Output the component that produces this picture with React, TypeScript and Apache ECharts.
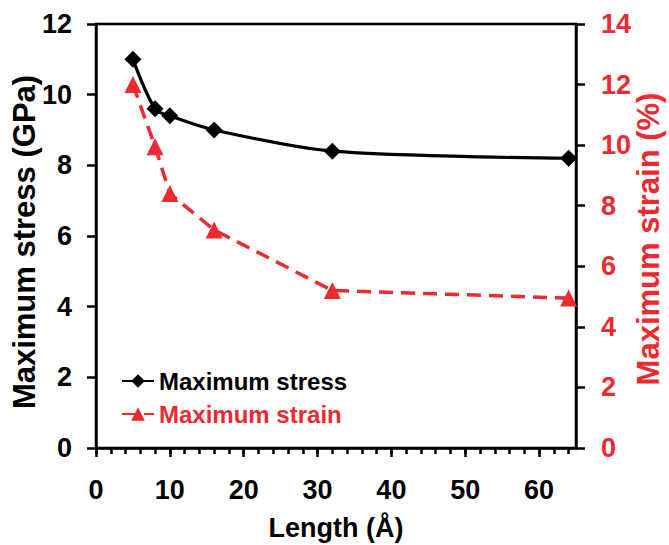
import React, { useEffect, useRef } from "react";
import * as echarts from "echarts";

const lengths = [5, 8, 10, 16, 32, 64];
const stressValues = [11.0, 9.6, 9.4, 9.0, 8.4, 8.2];
const strainValues = [12.0, 9.95, 8.4, 7.2, 5.2, 4.95];
const xMajorTicks = [0, 10, 20, 30, 40, 50, 60];
const xMinorTicks = [0, 2, 4, 6, 8, 10, 12, 14, 16, 18, 20, 22, 24, 26, 28, 30, 32, 34, 36, 38, 40, 42, 44, 46, 48, 50, 52, 54, 56, 58, 60, 62, 64];
const stressName = "Maximum stress";
const strainName = "Maximum strain";

const RED = "#EC2A2F";
const FONT = "'Liberation Sans', Arial, Helvetica, sans-serif";

export default function App() {
  const ref = useRef<HTMLDivElement>(null);
  useEffect(() => {
    if (!ref.current) return;
    const chart = echarts.init(ref.current, null, { renderer: "svg" });
    const labelStyle = { fontFamily: FONT, fontWeight: "bold" as const, fontSize: 27, color: "#000" };
    chart.setOption({
      animation: false,
      backgroundColor: "#fff",
      textStyle: { fontFamily: FONT },
      grid: {
        left: 96,
        right: 93,
        top: 24,
        bottom: 97,
        containLabel: false,
        outerBoundsMode: "none",
        show: true,
        borderColor: "#000",
        borderWidth: 2.5,
        backgroundColor: "transparent",
      },
      legend: {
        orient: "vertical",
        left: 116,
        top: 364,
        itemWidth: 32,
        itemHeight: 17,
        itemGap: 9,
        textStyle: { fontFamily: FONT, fontWeight: "bold", fontSize: 24 },
        data: [
          { name: stressName, textStyle: { color: "#000" } },
          { name: strainName, textStyle: { color: RED } },
        ],
      },
      xAxis: [
        {
          type: "value",
          min: 0,
          max: 65,
          interval: 10,
          position: "bottom",
          axisLine: { show: true, onZero: false, lineStyle: { color: "#000", width: 2.5 } },
          axisTick: { show: true, customValues: xMajorTicks, length: 9, lineStyle: { color: "#000", width: 2.5 } },
          axisLabel: { ...labelStyle, customValues: xMajorTicks, margin: 28 },
          splitLine: { show: false },
          name: "Length (Å)",
          nameLocation: "middle",
          nameGap: 66,
          nameMoveOverlap: false,
          nameTextStyle: { fontFamily: FONT, fontWeight: "bold", fontSize: 27, color: "#000" },
        },
        {
          type: "value",
          min: 0,
          max: 65,
          interval: 2,
          position: "bottom",
          axisLine: { show: false },
          axisTick: { show: true, customValues: xMinorTicks, length: 6, lineStyle: { color: "#000", width: 2.5 } },
          axisLabel: { show: false },
          splitLine: { show: false },
        },
      ],
      yAxis: [
        {
          type: "value",
          min: 0,
          max: 12,
          interval: 2,
          position: "left",
          axisLine: { show: true, onZero: false, lineStyle: { color: "#000", width: 2.5 } },
          axisTick: { show: true, length: 9, lineStyle: { color: "#000", width: 2.5 } },
          axisLabel: { ...labelStyle, margin: 24 },
          splitLine: { show: false },
          name: "Maximum stress (GPa)",
          nameLocation: "middle",
          nameRotate: 90,
          nameGap: 56,
          nameMoveOverlap: false,
          nameTextStyle: { fontFamily: FONT, fontWeight: "bold", fontSize: 31, color: "#000", padding: [0, 12, 0, 0] },
        },
        {
          type: "value",
          min: 0,
          max: 14,
          interval: 2,
          position: "right",
          axisLine: { show: true, onZero: false, lineStyle: { color: "#000", width: 2.5 } },
          axisTick: { show: true, length: 9, lineStyle: { color: "#000", width: 2.5 } },
          axisLabel: { ...labelStyle, color: RED, margin: 25 },
          splitLine: { show: false },
          name: "Maximum strain (%)",
          nameLocation: "middle",
          nameRotate: 90,
          nameGap: 57,
          nameMoveOverlap: false,
          nameTextStyle: { fontFamily: FONT, fontWeight: "bold", fontSize: 31, color: RED, padding: [0, 6, 0, 0] },
        },
      ],
      series: [
        {
          name: stressName,
          type: "line",
          xAxisIndex: 0,
          yAxisIndex: 0,
          data: lengths.map((x, i) => [x, stressValues[i]]),
          symbol: "diamond",
          symbolSize: [17, 17],
          smooth: 0.3,
          itemStyle: { color: "#000" },
          lineStyle: { color: "#000", width: 3.2 },
          z: 3,
        },
        {
          name: strainName,
          type: "line",
          xAxisIndex: 0,
          yAxisIndex: 1,
          data: lengths.map((x, i) => [x, strainValues[i]]),
          symbol: "triangle",
          symbolSize: [17, 17],
          itemStyle: { color: RED },
          lineStyle: { color: RED, width: 3.5, type: [14, 8] },
          z: 2,
        },
      ],
    });
    return () => chart.dispose();
  }, []);
  return (
    <div
      ref={ref}
      style={{ position: "absolute", left: 0, top: 0, width: 669, height: 545 }}
    />
  );
}
